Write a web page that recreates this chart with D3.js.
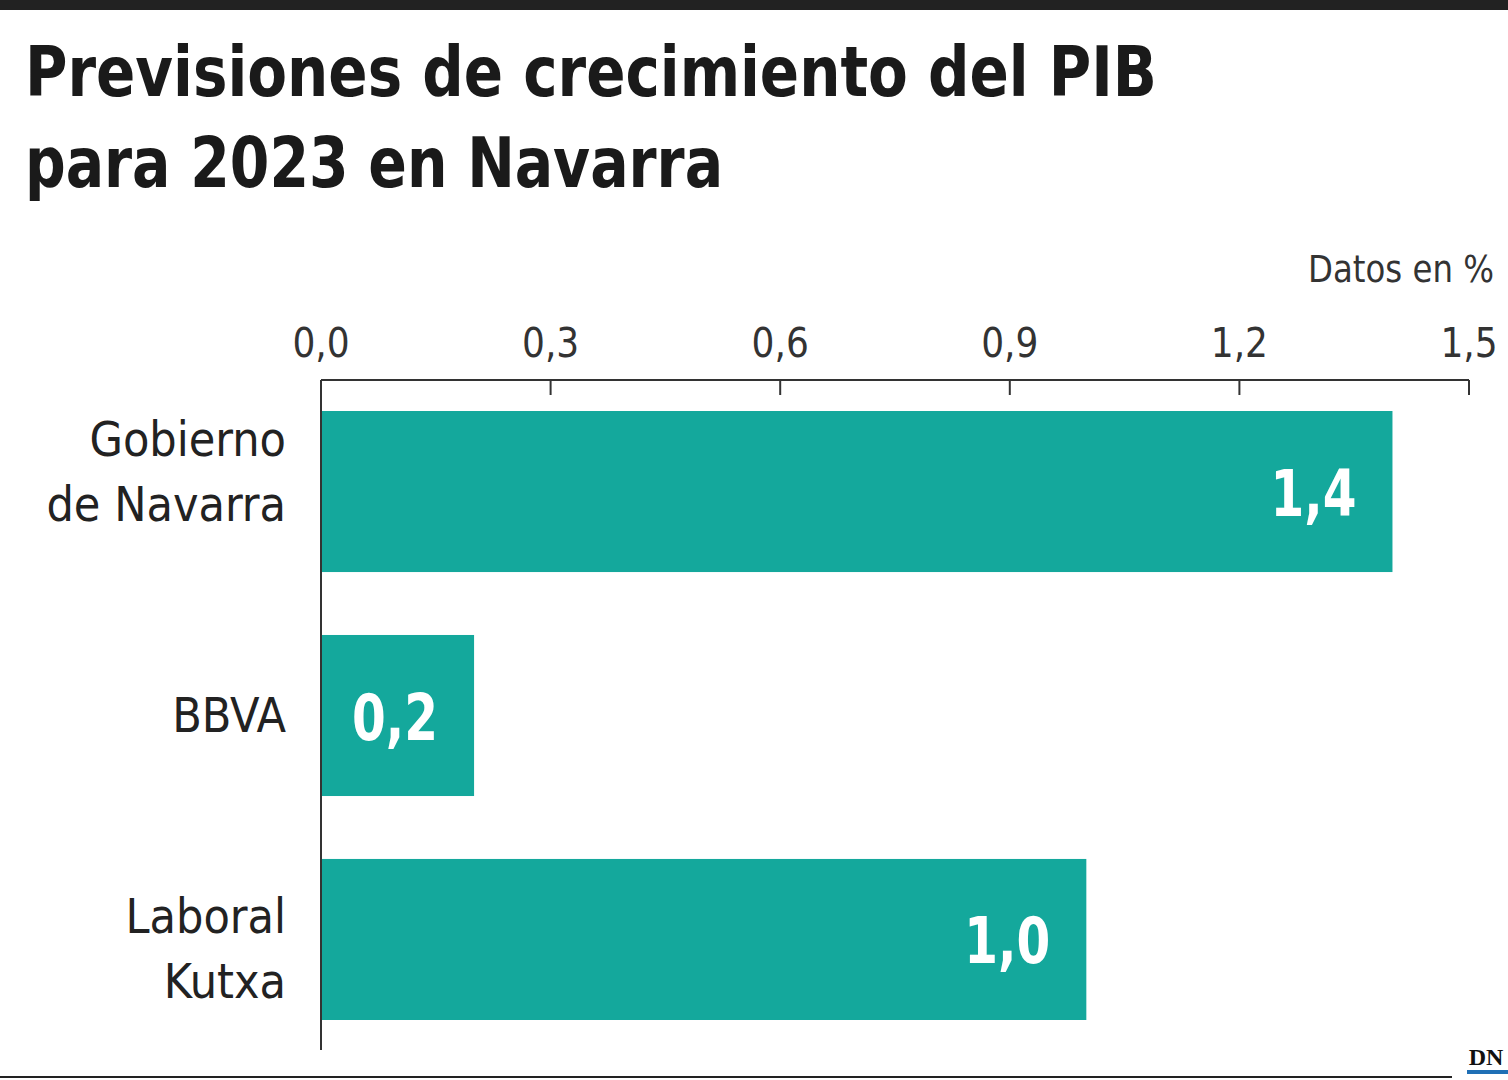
<!DOCTYPE html>
<html><head><meta charset="utf-8">
<script src="https://cdn.jsdelivr.net/npm/d3@7"></script>
<style>body{margin:0;background:#fff}</style>
</head><body>
<script>
// datos
var categorias = [["Gobierno","de Navarra"],["BBVA"],["Laboral","Kutxa"]];
var valores = [1.4, 0.2, 1.0];
var etiquetas = ["1,4","0,2","1,0"];
var ticks = [0, 0.3, 0.6, 0.9, 1.2, 1.5];

var W = 1508, H = 1080;
var svg = d3.select("body").append("svg").attr("width", W).attr("height", H);
var cond = "'DejaVu Sans Condensed','DejaVu Sans',sans-serif";

svg.append("rect").attr("x",0).attr("y",0).attr("width",W).attr("height",10).attr("fill","#222");

svg.append("text").attr("x",25).attr("y",96).text("Previsiones de crecimiento del PIB")
  .attr("font-family",cond).attr("font-weight","bold").attr("font-size",70)
  .attr("textLength",1132).attr("lengthAdjust","spacingAndGlyphs").attr("fill","#1a1a1a");
svg.append("text").attr("x",25).attr("y",187).text("para 2023 en Navarra")
  .attr("font-family",cond).attr("font-weight","bold").attr("font-size",70)
  .attr("textLength",698).attr("lengthAdjust","spacingAndGlyphs").attr("fill","#1a1a1a");

svg.append("text").attr("x",1494).attr("y",282).attr("text-anchor","end").text("Datos en %")
  .attr("font-family",cond).attr("font-size",38).attr("fill","#333")
  .attr("textLength",186).attr("lengthAdjust","spacingAndGlyphs");

var x = d3.scaleLinear().domain([0,1.5]).range([321,1469]);
var y = d3.scaleBand().domain(d3.range(valores.length)).range([411,1020]).paddingInner(0.281).paddingOuter(0);

// eje
svg.append("line").attr("x1",321).attr("x2",1469).attr("y1",380).attr("y2",380).attr("stroke","#333").attr("stroke-width",2);
svg.selectAll(".tk").data(ticks).enter().append("line")
  .attr("x1",d=>x(d)).attr("x2",d=>x(d)).attr("y1",380).attr("y2",395).attr("stroke","#333").attr("stroke-width",2);
svg.selectAll(".tl").data(ticks).enter().append("text")
  .attr("x",d=>x(d)).attr("y",357).attr("text-anchor","middle")
  .attr("font-family",cond).attr("font-size",40).attr("fill","#333")
  .text(d=>d3.format(".1f")(d).replace(".",","));

svg.selectAll(".bar").data(valores).enter().append("rect")
  .attr("x",x(0)).attr("y",(d,i)=>y(i)).attr("width",d=>x(d)-x(0)).attr("height",y.bandwidth())
  .attr("fill","#14a89c");

svg.append("line").attr("x1",321).attr("x2",321).attr("y1",380).attr("y2",1050).attr("stroke","#333").attr("stroke-width",2);

svg.selectAll(".val").data(valores).enter().append("text")
  .attr("x",d=>x(d)-36).attr("y",(d,i)=>y(i)+y.bandwidth()/2+24).attr("text-anchor","end")
  .attr("font-family",cond).attr("font-weight","bold").attr("font-size",64).attr("fill","#fff")
  .attr("textLength",86).attr("lengthAdjust","spacingAndGlyphs")
  .text((d,i)=>etiquetas[i]);

var desplaz = [[-36,29],[16],[-6,59]];
categorias.forEach(function(c,i){
  var cy = y(i)+y.bandwidth()/2;
  var t = svg.append("text").attr("text-anchor","end").attr("font-family",cond)
    .attr("font-size",48).attr("fill","#222");
  c.forEach(function(l,j){
    t.append("tspan").attr("x",286).attr("y",cy+desplaz[i][j]).text(l);
  });
});

// pie
svg.append("line").attr("x1",0).attr("x2",1452).attr("y1",1077).attr("y2",1077).attr("stroke","#222").attr("stroke-width",2);
svg.append("text").attr("x",1486).attr("y",1065).attr("text-anchor","middle").text("DN")
  .attr("font-family","'Liberation Serif',serif").attr("font-weight","bold").attr("font-size",24).attr("fill","#111");
svg.append("rect").attr("x",1467).attr("y",1070).attr("width",41).attr("height",4).attr("fill","#1f6fb5");
</script>
</body></html>
